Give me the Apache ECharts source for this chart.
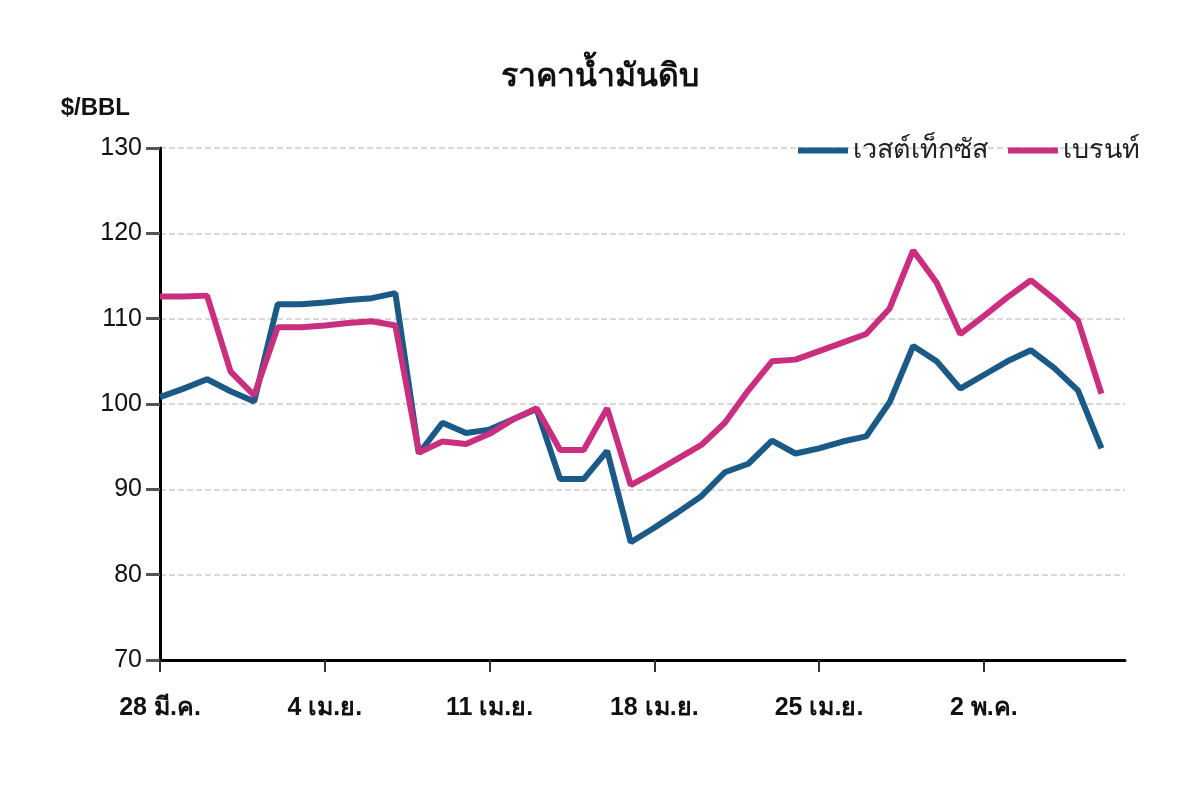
<!DOCTYPE html><html><head><meta charset="utf-8"><script src="https://cdn.jsdelivr.net/npm/echarts@6/dist/echarts.min.js"></script>
<style>body{margin:0;background:#fff}#c{width:1200px;height:804px}</style></head><body><div id="c"></div><script>
var tickLabels=['28 มี.ค.','4 เม.ย.','11 เม.ย.','18 เม.ย.','25 เม.ย.','2 พ.ค.'];
var wti=[100.8,101.8,102.9,101.5,100.3,111.7,111.7,111.9,112.2,112.4,113.0,94.2,97.8,96.6,97.0,98.2,99.4,91.2,91.2,94.5,83.8,85.5,87.3,89.2,92.0,93.0,95.7,94.2,94.8,95.6,96.2,100.2,106.8,105.0,101.8,103.4,105.0,106.3,104.2,101.6,94.8];
var brent=[112.6,112.6,112.7,103.8,101.0,109.0,109.0,109.2,109.5,109.7,109.2,94.3,95.6,95.3,96.5,98.2,99.5,94.6,94.6,99.5,90.5,92.0,93.6,95.2,97.8,101.6,105.0,105.2,106.2,107.2,108.2,111.2,118.0,114.2,108.2,110.3,112.5,114.5,112.3,109.8,101.2];
function pts(a){return a.map(function(v,i){return [i,v];});}
var c=echarts.init(document.getElementById('c'));
var f='Liberation Sans, Noto Sans, sans-serif';
c.setOption({animation:false,
title:{text:'ราคาน้ำมันดิบ',left:'center',top:56,textStyle:{fontSize:32,fontWeight:'bold',color:'#111',fontFamily:f}},
legend:{right:55,top:132,itemWidth:50,itemHeight:6,itemGap:20,icon:'rect',textStyle:{fontSize:27,color:'#222',fontFamily:f},data:['เวสต์เท็กซัส','เบรนท์']},
grid:{left:160,right:75,top:148,bottom:144},
xAxis:{type:'value',min:0,max:41,interval:7,axisLine:{lineStyle:{color:'#000',width:3}},axisTick:{length:12,lineStyle:{color:'#333',width:2}},splitLine:{show:false},
axisLabel:{margin:36,fontSize:25,fontWeight:'bold',color:'#111',fontFamily:f,formatter:function(v){return tickLabels[v/7]||'';},showMaxLabel:false}},
yAxis:{type:'value',min:70,max:130,interval:10,name:'$/BBL',nameLocation:'end',nameGap:28,nameTextStyle:{fontSize:24,fontWeight:'bold',color:'#111',fontFamily:f,align:'right',padding:[0,30,0,0]},
axisLine:{show:true,lineStyle:{color:'#000',width:3}},axisTick:{show:true,length:14,inside:false,lineStyle:{color:'#555',width:3}},
axisLabel:{fontSize:25,color:'#111',margin:18,fontFamily:f},splitLine:{lineStyle:{color:'#ccc',type:'dashed',width:1.5}}},
series:[{name:'เวสต์เท็กซัส',type:'line',data:pts(wti),symbol:'none',lineStyle:{width:6,color:'#1b5a86'},itemStyle:{color:'#1b5a86'}},
{name:'เบรนท์',type:'line',data:pts(brent),symbol:'none',lineStyle:{width:6,color:'#c92f7e'},itemStyle:{color:'#c92f7e'}}]});
</script></body></html>
